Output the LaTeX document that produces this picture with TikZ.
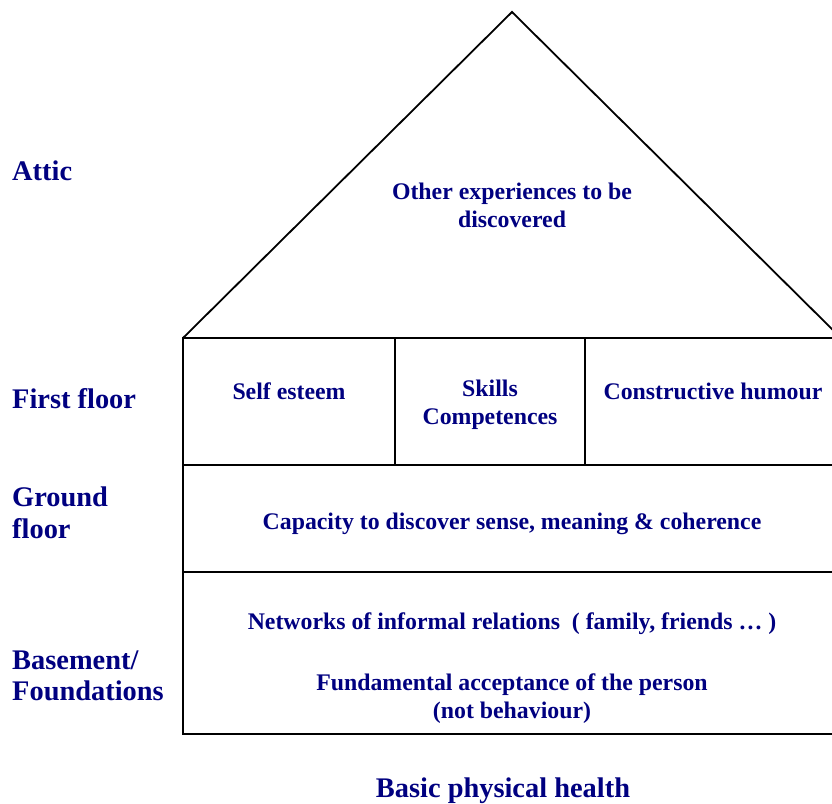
\documentclass[tikz,border=0pt]{standalone}
\usepackage{fontspec}
\setmainfont{Liberation Serif}
\definecolor{labelblue}{RGB}{0,0,128}
\tikzset{
	floorlabel/.style={anchor=west, text=labelblue, align=left, inner sep=0pt,
		font=\fontsize{28.4}{31.5}\selectfont\bfseries},
	roomtext/.style={text=labelblue, align=center, inner sep=0pt,
		font=\fontsize{23.8}{28}\selectfont\bfseries},
	wall/.style={line width=1.8pt, line join=miter},
}
\begin{document}
\begin{tikzpicture}[x=1pt, y=-1pt]
			\useasboundingbox (0,0) rectangle (832,803);
			\clip (0,0) rectangle (832,803);
			%house outline
			\coordinate (apex) at (512,12);
			\coordinate (eaveL) at (183,338);
			\coordinate (eaveR) at (841,338);
			\draw[wall] (eaveL) -- (apex) -- (eaveR);
			\draw[wall] (183,338) rectangle (841,734);
			\draw[wall] (183,465) -- (841,465);
			\draw[wall] (183,572) -- (841,572);
			\draw[wall] (395,338) -- (395,465);
			\draw[wall] (585,338) -- (585,465);
			
			%floor names
			\node (attic) at (12,171) [floorlabel]{Attic};
			\node (first) at (12,399) [floorlabel]{First floor};
			\node (ground) at (12,513) [floorlabel]{Ground\\floor};
			\node (basement) at (12,676) [floorlabel]{Basement/\\Foundations};
			
			%rooms
			\node (other) at (512,205) [roomtext]{Other experiences to be\\discovered};
			\node (esteem) at (289,391) [roomtext]{Self esteem};
			\node (skills) at (490,405) [roomtext]{Skills\\Competences};
			\node (humour) at (713,391) [roomtext]{Constructive humour};
			\node (capacity) at (512,524) [roomtext]{Capacity to discover sense, meaning \& coherence};
			\node (networks) at (512,624) [roomtext]{Networks of informal relations\ \ ( family, friends \dots\ )};
			\node (acceptance) at (512,699) [roomtext]{Fundamental acceptance of the person\\(not behaviour)};
			
			\node (health) at (503,791) [roomtext, font=\fontsize{28.4}{31.5}\selectfont\bfseries]{Basic physical health};
		\end{tikzpicture}
\end{document}
